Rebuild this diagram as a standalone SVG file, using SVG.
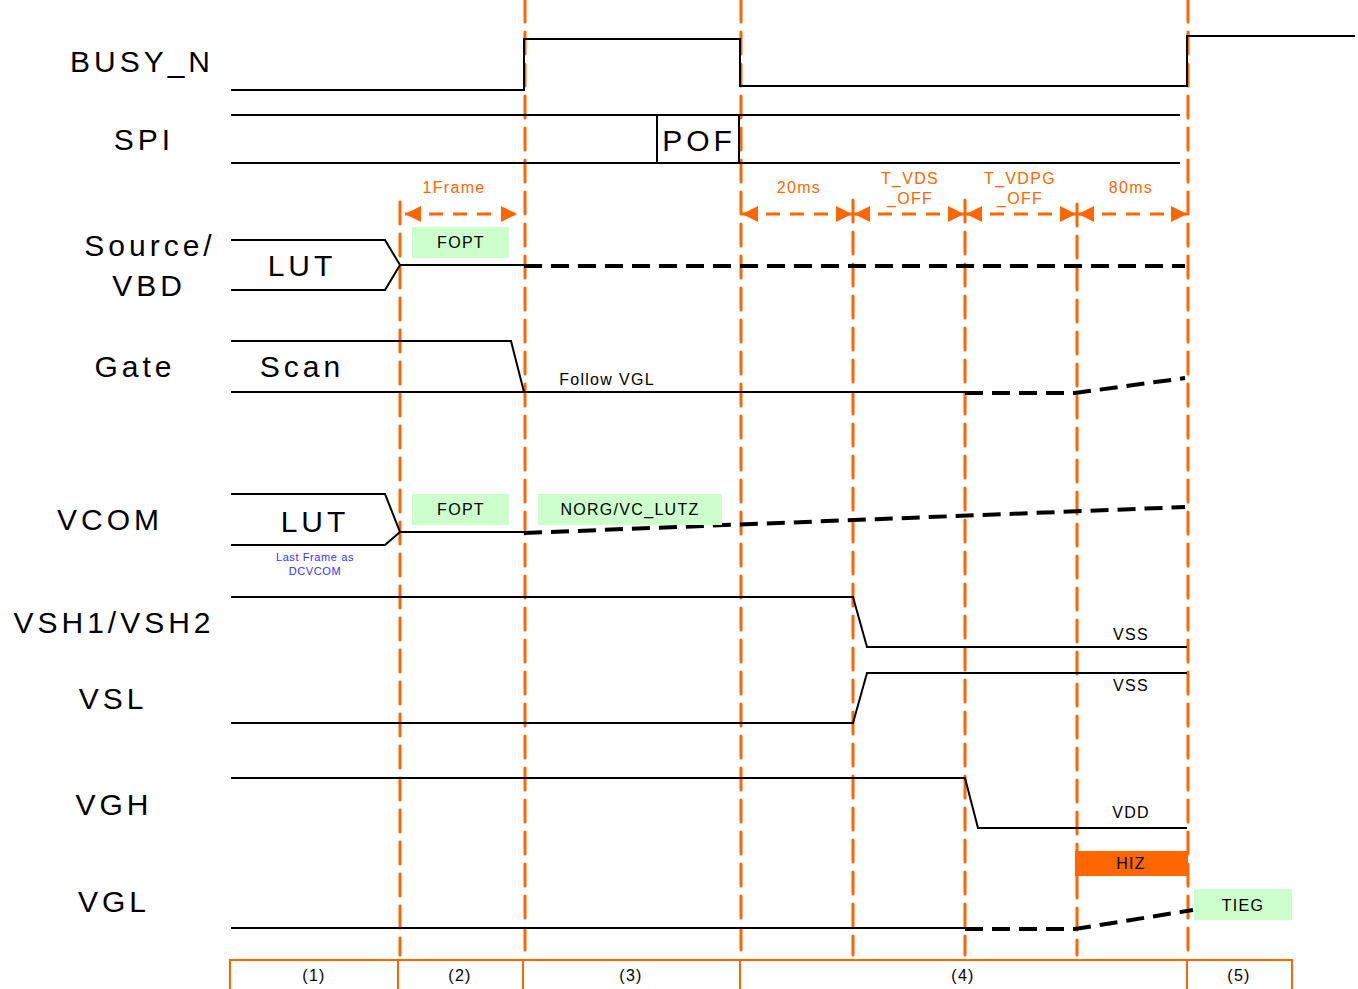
<svg xmlns="http://www.w3.org/2000/svg" width="1358" height="989" viewBox="0 0 1358 989">
<style>
.lbl{font-family:"Liberation Sans",Arial,sans-serif;font-size:30px;letter-spacing:4px;fill:#000;text-anchor:middle}
.sm{font-family:"Liberation Sans",Arial,sans-serif;font-size:16px;letter-spacing:1.3px;fill:#000;text-anchor:middle}
.or{font-family:"Liberation Sans",Arial,sans-serif;font-size:16px;letter-spacing:1.3px;fill:#FF6600;text-anchor:middle}
.bl{font-family:"Liberation Sans",Arial,sans-serif;font-size:11px;letter-spacing:0.6px;fill:#3333FF;text-anchor:middle}
.sig{fill:none;stroke:#000;stroke-width:2}
.dsh{fill:none;stroke:#000;stroke-width:4;stroke-dasharray:18 9}
.vd{fill:none;stroke:#FF6600;stroke-width:3;stroke-dasharray:22 10;stroke-linecap:round}
.ar{fill:none;stroke:#FF6600;stroke-width:3;stroke-dasharray:14 10}
.box{fill:#CCFFCC}
.tb{fill:none;stroke:#FF6600;stroke-width:2}
</style>
<defs>
<marker id="ah" viewBox="0 0 16 16" refX="16" refY="8" markerWidth="16" markerHeight="16" markerUnits="userSpaceOnUse" orient="auto-start-reverse">
<path d="M0,0 L16,8 L0,16 Z" fill="#FF6600"/>
</marker>
</defs>
<rect width="1358" height="989" fill="#fff"/>

<g id="connectors">
<line class="vd" x1="400" y1="202" x2="400" y2="955"/>
<line class="vd" x1="525" y1="0" x2="525" y2="955"/>
<line class="vd" x1="741" y1="0" x2="741" y2="955"/>
<line class="vd" x1="853" y1="200" x2="853" y2="955"/>
<line class="vd" x1="965" y1="200" x2="965" y2="955"/>
<line class="vd" x1="1077" y1="204" x2="1077" y2="955"/>
<line class="vd" x1="1188" y1="0" x2="1188" y2="955"/>
<line class="ar" x1="405" y1="214" x2="517" y2="214" marker-start="url(#ah)" marker-end="url(#ah)"/>
<line class="ar" x1="742" y1="214" x2="852" y2="214" marker-start="url(#ah)" marker-end="url(#ah)"/>
<line class="ar" x1="854" y1="214" x2="964" y2="214" marker-start="url(#ah)" marker-end="url(#ah)"/>
<line class="ar" x1="966" y1="214" x2="1076" y2="214" marker-start="url(#ah)" marker-end="url(#ah)"/>
<line class="ar" x1="1078" y1="214" x2="1187" y2="214" marker-start="url(#ah)" marker-end="url(#ah)"/>
<text class="or" x="454" y="193">1Frame</text>
<text class="or" x="799" y="193">20ms</text>
<text class="or" x="910" y="184">T_VDS</text>
<text class="or" x="910" y="204">_OFF</text>
<text class="or" x="1020" y="184">T_VDPG</text>
<text class="or" x="1020" y="204">_OFF</text>
<text class="or" x="1131" y="193">80ms</text>
</g>

<g id="busy_n">
<text class="lbl" x="142" y="72">BUSY_N</text>
<polyline class="sig" points="231,90 524,90 524,39 740,39 740,86 1187,86 1187,36 1355,36"/>
</g>

<g id="spi">
<text class="lbl" x="144" y="150">SPI</text>
<line class="sig" x1="231" y1="115" x2="1180" y2="115"/>
<line class="sig" x1="231" y1="163" x2="1180" y2="163"/>
<line class="sig" x1="657" y1="115" x2="657" y2="164"/>
<line class="sig" x1="739" y1="115" x2="739" y2="163"/>
<text class="lbl" x="699" y="151">POF</text>
</g>

<g id="source_vbd">
<text class="lbl" x="150" y="256">Source/</text>
<text class="lbl" x="149" y="296">VBD</text>
<polyline class="sig" points="231,240 385,240 400,265 385,290 231,290"/>
<text class="lbl" x="302" y="276">LUT</text>
<line class="sig" x1="400" y1="265" x2="524" y2="265"/>
<line class="dsh" x1="524" y1="266" x2="1185" y2="266"/>
<rect class="box" x="412" y="227" width="97" height="31"/>
<text class="sm" x="461" y="248">FOPT</text>
</g>

<g id="gate">
<text class="lbl" x="135" y="377">Gate</text>
<polyline class="sig" points="231,341 511,341 524,392"/>
<line class="sig" x1="231" y1="392" x2="965" y2="392"/>
<polyline class="dsh" points="965,393 1075,393 1185,378"/>
<text class="lbl" x="302" y="377">Scan</text>
<text class="sm" x="607" y="385">Follow VGL</text>
</g>

<g id="vcom">
<text class="lbl" x="110" y="530">VCOM</text>
<polyline class="sig" points="231,494 385,494 400,532 385,545 231,545"/>
<text class="lbl" x="315" y="532">LUT</text>
<line class="sig" x1="400" y1="532" x2="524" y2="532"/>
<line class="dsh" x1="524" y1="533" x2="1185" y2="507"/>
<rect class="box" x="412" y="494" width="97" height="31"/>
<text class="sm" x="461" y="515">FOPT</text>
<rect class="box" x="538" y="494" width="184" height="31"/>
<text class="sm" x="630" y="515">NORG/VC_LUTZ</text>
<text class="bl" x="315" y="561">Last Frame as</text>
<text class="bl" x="315" y="575">DCVCOM</text>
</g>

<g id="vsh">
<text class="lbl" x="114" y="633">VSH1/VSH2</text>
<polyline class="sig" points="231,597 853,597 867,647 1187,647"/>
<text class="sm" x="1131" y="640">VSS</text>
</g>

<g id="vsl">
<text class="lbl" x="113" y="709">VSL</text>
<polyline class="sig" points="231,723 853,723 867,673 1187,673"/>
<text class="sm" x="1131" y="691">VSS</text>
</g>

<g id="vgh">
<text class="lbl" x="114" y="815">VGH</text>
<polyline class="sig" points="231,778 965,778 978,828 1187,828"/>
<text class="sm" x="1131" y="818">VDD</text>
<rect x="1075" y="851" width="113" height="25" fill="#FF6600"/>
<text class="sm" x="1131" y="869">HIZ</text>
</g>

<g id="vgl">
<text class="lbl" x="114" y="912">VGL</text>
<line class="sig" x1="231" y1="928" x2="965" y2="928"/>
<polyline class="dsh" points="965,929 1075,929 1193,910"/>
<rect class="box" x="1194" y="889" width="98" height="31"/>
<text class="sm" x="1243" y="911">TIEG</text>
</g>

<g id="phases">
<polyline class="tb" points="230,989 230,960 1292,960 1292,989"/>
<line class="tb" x1="398" y1="960" x2="398" y2="989"/>
<line class="tb" x1="523" y1="960" x2="523" y2="989"/>
<line class="tb" x1="740" y1="960" x2="740" y2="989"/>
<line class="tb" x1="1187" y1="960" x2="1187" y2="989"/>
<text class="sm" x="314" y="981">(1)</text>
<text class="sm" x="460" y="981">(2)</text>
<text class="sm" x="631" y="981">(3)</text>
<text class="sm" x="963" y="981">(4)</text>
<text class="sm" x="1239" y="981">(5)</text>
</g>
</svg>
